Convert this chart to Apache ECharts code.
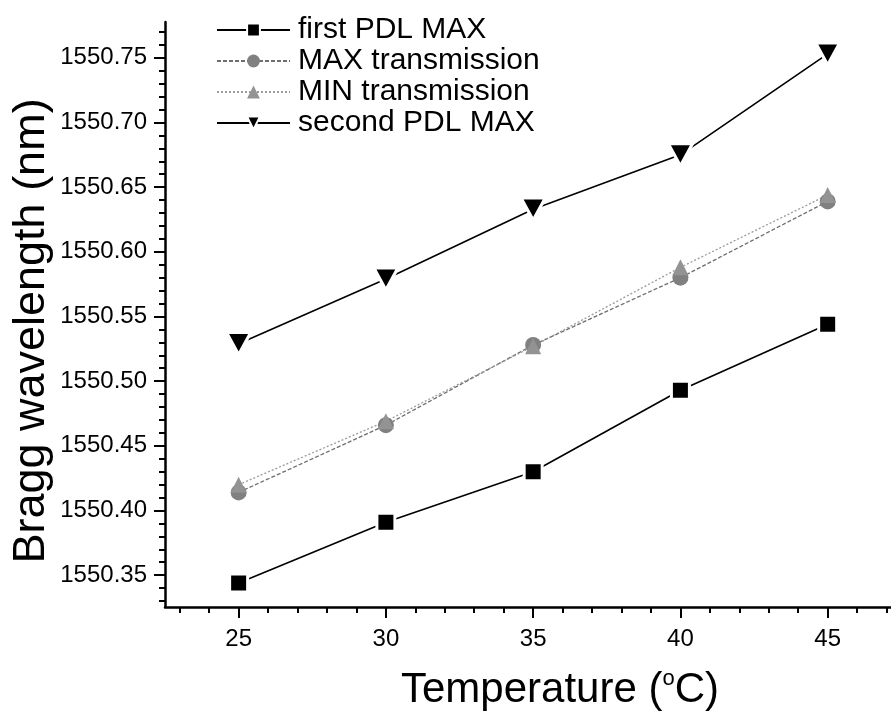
<!DOCTYPE html>
<html>
<head>
<meta charset="utf-8">
<script src="https://cdn.jsdelivr.net/npm/echarts@6/dist/echarts.min.js"></script>
<style>
  html, body { margin: 0; padding: 0; background: #fff; }
  #chart { width: 891px; height: 717px; }
</style>
</head>
<body>
<div id="chart"></div>
<script>
// Temperature steps (°C)
const temperatures = [25, 30, 35, 40, 45];

// Bragg wavelength (nm) for each feature
const firstPdlMax     = [1550.344, 1550.391, 1550.430, 1550.493, 1550.544];
const maxTransmission = [1550.414, 1550.466, 1550.528, 1550.580, 1550.639];
const minTransmission = [1550.420, 1550.469, 1550.527, 1550.588, 1550.644];
const secondPdlMax    = [1550.529, 1550.579, 1550.633, 1550.675, 1550.753];

// Tick values
const xTickLabels = [25, 30, 35, 40, 45];
const xMinorTicks = [23, 24, 26, 27, 28, 29, 31, 32, 33, 34, 36, 37, 38, 39, 41, 42, 43, 44, 46, 47];
const yTickLabels = [1550.35, 1550.40, 1550.45, 1550.50, 1550.55, 1550.60, 1550.65, 1550.70, 1550.75];
const yMinorTicks = [1550.33, 1550.34, 1550.36, 1550.37, 1550.38, 1550.39, 1550.41, 1550.42, 1550.43, 1550.44,
                     1550.46, 1550.47, 1550.48, 1550.49, 1550.51, 1550.52, 1550.53, 1550.54, 1550.56, 1550.57,
                     1550.58, 1550.59, 1550.61, 1550.62, 1550.63, 1550.64, 1550.66, 1550.67, 1550.68, 1550.69,
                     1550.71, 1550.72, 1550.73, 1550.74, 1550.76, 1550.77];

const FONT = '"Liberation Sans", Arial, Helvetica, sans-serif';
const X_RANGE = [22.5, 47.15];
const Y_RANGE = [1550.3254, 1550.7777];

const pairs = (ys) => temperatures.map((t, i) => [t, ys[i]]);

const chart = echarts.init(document.getElementById('chart'), null, { renderer: 'canvas' });

const axisBase = {
  type: 'value',
  splitLine: { show: false },
  axisLine: { show: true, lineStyle: { color: '#000', width: 2.5 } }
};

chart.setOption({
  animation: false,
  backgroundColor: '#fff',
  grid: { left: 165, right: 0, top: 22, bottom: 110, containLabel: false },
  xAxis: [
    Object.assign({}, axisBase, {
      min: X_RANGE[0], max: X_RANGE[1], position: 'bottom',
      axisTick: { show: true, inside: false, length: 11, customValues: xTickLabels, lineStyle: { color: '#000', width: 2 } },
      axisLabel: { show: true, customValues: xTickLabels, margin: 20, fontSize: 24, fontFamily: FONT, color: '#000' }
    }),
    Object.assign({}, axisBase, {
      min: X_RANGE[0], max: X_RANGE[1], position: 'bottom',
      axisLine: { show: false },
      axisTick: { show: true, inside: false, length: 6, customValues: xMinorTicks, lineStyle: { color: '#000', width: 2 } },
      axisLabel: { show: false }
    })
  ],
  yAxis: [
    Object.assign({}, axisBase, {
      min: Y_RANGE[0], max: Y_RANGE[1], position: 'left',
      axisTick: { show: true, inside: false, length: 11, customValues: yTickLabels, lineStyle: { color: '#000', width: 2 } },
      axisLabel: {
        show: true, customValues: yTickLabels, margin: 18, fontSize: 24, fontFamily: FONT, color: '#000',
        formatter: (v) => Number(v).toFixed(2)
      }
    }),
    Object.assign({}, axisBase, {
      min: Y_RANGE[0], max: Y_RANGE[1], position: 'left',
      axisLine: { show: false },
      axisTick: { show: true, inside: false, length: 6, customValues: yMinorTicks, lineStyle: { color: '#000', width: 2 } },
      axisLabel: { show: false }
    })
  ],
  legend: {
    orient: 'vertical',
    left: 211, top: 10,
    itemWidth: 73, itemHeight: 16, itemGap: 1,
    textStyle: { fontSize: 30, fontFamily: FONT, color: '#000', padding: [0, 0, 0, 3] },
    data: ['first PDL MAX', 'MAX transmission', 'MIN transmission', 'second PDL MAX']
  },
  series: [
    {
      name: 'first PDL MAX', type: 'line', xAxisIndex: 0, yAxisIndex: 0,
      data: pairs(firstPdlMax),
      symbol: 'rect', symbolSize: 18,
      itemStyle: { color: '#000', borderColor: '#fff', borderWidth: 3 },
      lineStyle: { color: '#000', width: 1.6, type: 'solid' },
      z: 3
    },
    {
      name: 'MAX transmission', type: 'line', xAxisIndex: 0, yAxisIndex: 0,
      data: pairs(maxTransmission),
      symbol: 'circle', symbolSize: 16,
      itemStyle: { color: '#808080' },
      lineStyle: { color: '#6e6e6e', width: 1.3, type: [4, 2] },
      z: 2
    },
    {
      name: 'MIN transmission', type: 'line', xAxisIndex: 0, yAxisIndex: 0,
      data: pairs(minTransmission),
      symbol: 'triangle', symbolSize: [16, 16],
      itemStyle: { color: '#939393' },
      lineStyle: { color: '#9a9a9a', width: 1.3, type: [2, 2] },
      z: 2
    },
    {
      name: 'second PDL MAX', type: 'line', xAxisIndex: 0, yAxisIndex: 0,
      data: pairs(secondPdlMax),
      symbol: 'triangle', symbolRotate: 180, symbolSize: [24, 22],
      itemStyle: { color: '#000', borderColor: '#fff', borderWidth: 3 },
      lineStyle: { color: '#000', width: 1.6, type: 'solid' },
      z: 3
    }
  ],
  graphic: [
    {
      type: 'text', x: 32, y: 331, rotation: Math.PI / 2,
      style: {
        text: 'Bragg wavelength (nm)', font: '45px ' + FONT, fill: '#000',
        textAlign: 'center', textVerticalAlign: 'middle', align: 'center', verticalAlign: 'middle'
      }
    },
    {
      type: 'text', x: 560, y: 690,
      style: {
        text: 'Temperature ({sup|o}C)', font: '42px ' + FONT, fill: '#000',
        textAlign: 'center', textVerticalAlign: 'middle', align: 'center', verticalAlign: 'middle',
        rich: { sup: { fontSize: 22, fontFamily: FONT, fill: '#000', verticalAlign: 'top', lineHeight: 44 } }
      }
    }
  ]
});
</script>
</body>
</html>
